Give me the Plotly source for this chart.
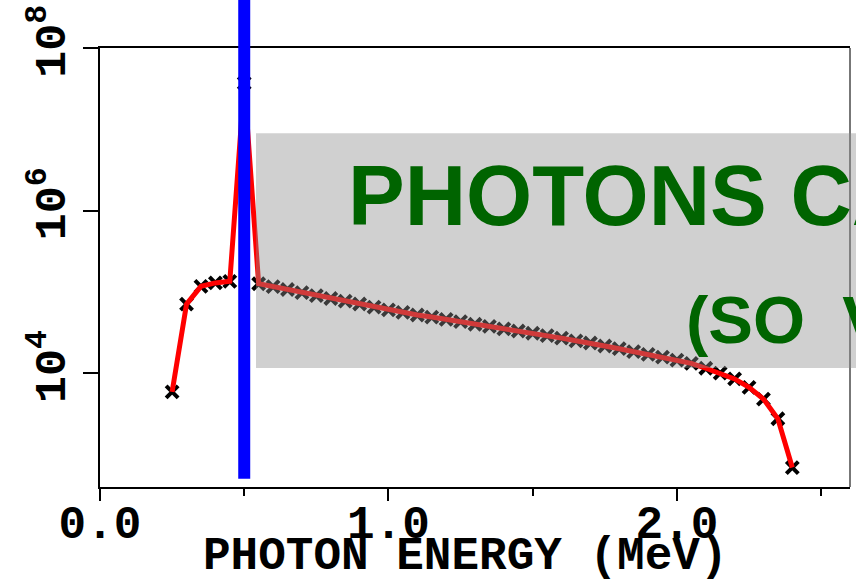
import plotly.graph_objects as go

# Photon energy bins (MeV)
energy = [0.25, 0.30, 0.35, 0.40, 0.45, 0.50, 0.55, 0.60, 0.65, 0.70,
          0.75, 0.80, 0.85, 0.90, 0.95, 1.00, 1.05, 1.10, 1.15, 1.20,
          1.25, 1.30, 1.35, 1.40, 1.45, 1.50, 1.55, 1.60, 1.65, 1.70,
          1.75, 1.80, 1.85, 1.90, 1.95, 2.00, 2.05, 2.10, 2.15, 2.20,
          2.25, 2.30, 2.35, 2.40]
# Counts per bin
counts = [5900, 70800, 117000, 129000, 135000, 37000000, 126000, 116000, 107000, 98000,
          90000, 83000, 77000, 71000, 65000, 60000, 56000, 52000, 49000, 46000,
          43000, 40000, 37600, 35000, 33000, 31000, 29000, 27000, 25000, 23500,
          21600, 20000, 18400, 17000, 15800, 14500, 13200, 11500, 10000, 8500,
          6700, 4800, 2750, 690]

annihilation_line = 0.5   # MeV
x_tick_vals = [0, 1, 2]
x_tick_text = ["0.0", "1.0", "2.0"]
y_tick_vals = [1e4, 1e6, 1e8]
y_tick_text = ["10<sup>4</sup>", "10<sup>6</sup>", "10<sup>8</sup>"]
x_title = "PHOTON ENERGY (MeV)"
banner_line1 = "PHOTONS CAN'T COUNT"
banner_line2 = "(SO  VERY FEW)"

MONO = "Liberation Mono"
SANS = "Liberation Sans"

fig = go.Figure()
fig.add_trace(go.Scatter(
    x=energy, y=counts, mode="markers",
    marker=dict(symbol="x-thin", size=12, color="black",
                line=dict(color="black", width=4)),
    showlegend=False, cliponaxis=False))
fig.add_trace(go.Scatter(
    x=energy, y=counts, mode="lines",
    line=dict(color="#ff0000", width=5),
    showlegend=False))

fig.update_layout(
    width=856, height=583,
    margin=dict(l=100, r=6, t=48, b=96, autoexpand=False),
    paper_bgcolor="white", plot_bgcolor="white",
    showlegend=False,
    xaxis=dict(range=[0, 2.6], showgrid=False, zeroline=False, automargin=False,
               showline=True, linecolor="black", linewidth=2, mirror=True,
               ticks="outside", ticklen=12, tickwidth=2, tickcolor="black",
               tickvals=x_tick_vals, ticktext=x_tick_text, ticklabelstandoff=-18,
               ticklabeloverflow="allow",
               tickfont=dict(family=MONO, size=46, color="black", weight="bold"),
               minor=dict(dtick=0.5, tick0=0, ticks="outside", ticklen=7,
                          tickwidth=2, tickcolor="black")),
    yaxis=dict(type="log", range=[2.6, 8], showgrid=False, zeroline=False,
               automargin=False, ticklabeloverflow="allow",
               showline=True, linecolor="black", linewidth=2,
               ticks="outside", ticklen=15, tickwidth=2, tickcolor="black",
               tickvals=y_tick_vals, ticktext=y_tick_text, tickangle=-90,
               tickfont=dict(family=MONO, size=45, color="black", weight="bold")),
)

# right frame border (grey)
fig.add_shape(type="line", xref="paper", yref="paper", x0=1, x1=1, y0=0, y1=1,
              line=dict(color="#777777", width=2), layer="above")

# blue annihilation line
fig.add_shape(type="line", xref="x", yref="paper",
              x0=annihilation_line, x1=annihilation_line, y0=0.019, y1=1.2,
              line=dict(color="#0000ff", width=12), layer="above")

# translucent grey banner
fig.add_shape(type="rect", xref="paper", yref="paper",
              x0=0.208, x1=1.2, y0=0.271, y1=0.806,
              fillcolor="rgb(141,141,141)", opacity=0.41,
              line=dict(width=0), layer="above")

fig.add_annotation(text=banner_line1, xref="paper", yref="paper",
                   x=0.328, y=0.664, xanchor="left", yanchor="middle",
                   showarrow=False,
                   font=dict(family=SANS, size=85, color="#006400", weight="bold"))
fig.add_annotation(text=banner_line2, xref="paper", yref="paper",
                   x=0.779, y=0.381, xanchor="left", yanchor="middle",
                   showarrow=False,
                   font=dict(family=SANS, size=67, color="#006400", weight="bold"))

fig.add_annotation(text=x_title, xref="paper", yref="paper",
                   x=0.487, y=-0.1588, xanchor="center", yanchor="middle",
                   showarrow=False,
                   font=dict(family=MONO, size=46, color="black", weight="bold"))

fig.write_html("out.html", config={"displayModeBar": False},
               post_script="document.body.style.margin='0';")
